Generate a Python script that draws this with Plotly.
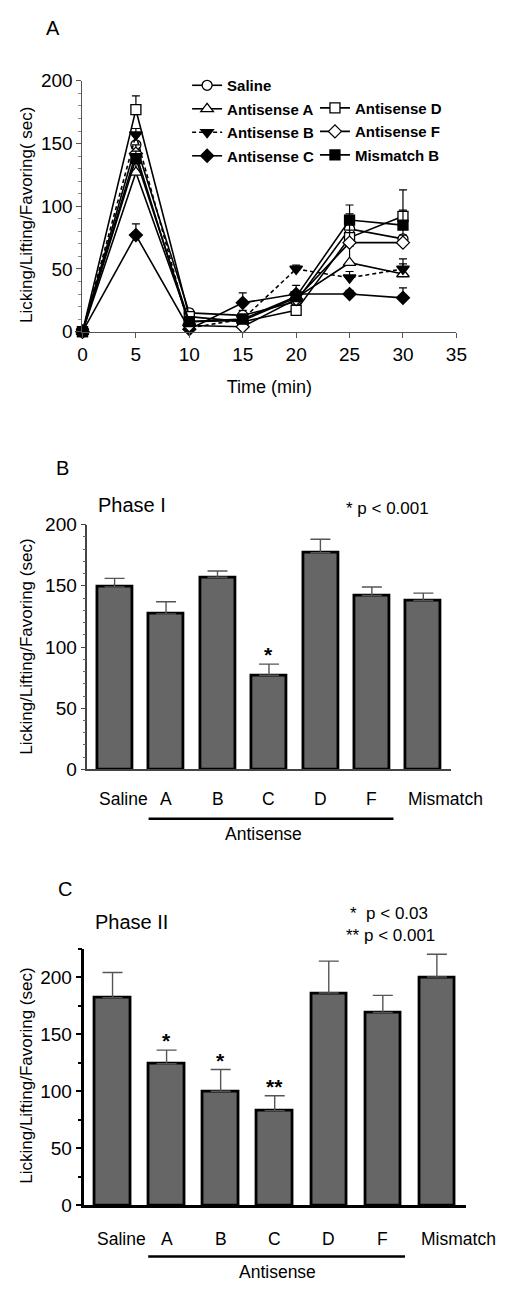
import plotly.graph_objects as go

# ---------------- data ----------------
time_min = [0, 5, 10, 15, 20, 25, 30]
saline = [0, 149, 15, 13, 24, 82, 74]
anti_a = [0, 127, 8, 9, 27, 55, 46]
anti_b = [0, 157, 3, 10, 50, 43, 50]
anti_c = [0, 77, 2, 23, 30, 30, 27]
anti_d = [0, 177, 12, 8, 17, 75, 92]
anti_f = [0, 142, 5, 4, 26, 71, 71]
mismatch_b = [0, 138, 8, 10, 28, 89, 85]

saline_err = [0, 7, 3, 4, 4, 12, 8]
anti_a_err = [0, 10, 3, 3, 4, 13, 8]
anti_b_err = [0, 5, 2, 3, 3, 5, 8]
anti_c_err = [0, 9, 2, 8, 7, 3, 8]
anti_d_err = [0, 11, 3, 4, 5, 12, 21]
anti_f_err = [0, 7, 2, 3, 3, 10, 6]
mismatch_b_err = [0, 6, 3, 4, 4, 12, 12]

groups = ["Saline", "A", "B", "C", "D", "F", "Mismatch"]
phase1 = [149, 127, 157, 77, 177, 142, 138]
phase1_err = [7, 10, 5, 9, 11, 7, 6]
phase1_sig = ["", "", "", "*", "", "", ""]
phase2 = [182, 124, 100, 83, 186, 169, 200]
phase2_err = [22, 12, 19, 13, 28, 15, 20]
phase2_sig = ["", "*", "*", "**", "", "", ""]

W, H = 510, 1296
FONT = "Arial, Liberation Sans, sans-serif"


def px(p):
    return p / W


def py(p):
    return 1 - p / H


fig = go.Figure()

# ---------------- panel A ----------------
series = [
    ("Saline", saline, saline_err, "circle", "white", "solid", "legend"),
    ("Antisense A", anti_a, anti_a_err, "triangle-up", "white", "solid", "legend"),
    ("Antisense B", anti_b, anti_b_err, "triangle-down", "black", "4px,3px", "legend"),
    ("Antisense C", anti_c, anti_c_err, "diamond", "black", "solid", "legend"),
    ("Antisense D", anti_d, anti_d_err, "square", "white", "solid", "legend2"),
    ("Antisense F", anti_f, anti_f_err, "diamond", "white", "solid", "legend2"),
    ("Mismatch B", mismatch_b, mismatch_b_err, "square", "black", "solid", "legend2"),
]
for name, vals, errs, sym, fill, dash, leg in series:
    fig.add_trace(go.Scatter(
        x=time_min, y=vals, name=name, mode="lines+markers",
        xaxis="x", yaxis="y", legend=leg, legendgroup=name,
        line=dict(color="black", width=1.6, dash=dash),
        marker=dict(symbol=sym, size=10 if "triangle" not in sym else 11,
                    color=fill, line=dict(color="black", width=1.3)),
        error_y=dict(type="data", array=errs, arrayminus=[0] * len(errs),
                     symmetric=False, color="black", thickness=1.2, width=4),
        cliponaxis=False,
    ))

# ---------------- panel B ----------------
fig.add_trace(go.Bar(
    x=list(range(len(groups))), y=phase1, xaxis="x2", yaxis="y2",
    width=0.68, showlegend=False,
    marker=dict(color="#666666", line=dict(color="black", width=2.8)),
    error_y=dict(type="data", array=phase1_err, arrayminus=[0] * len(groups),
                 symmetric=False, color="#555555", thickness=1.4, width=10),
))

# ---------------- panel C ----------------
fig.add_trace(go.Bar(
    x=list(range(len(groups))), y=phase2, xaxis="x3", yaxis="y3",
    width=0.66, showlegend=False,
    marker=dict(color="#666666", line=dict(color="black", width=2.8)),
    error_y=dict(type="data", array=phase2_err, arrayminus=[0] * len(groups),
                 symmetric=False, color="#555555", thickness=1.4, width=10),
))

tickfont = dict(family=FONT, size=19, color="black")

fig.update_layout(
    width=W, height=H, margin=dict(l=0, r=0, t=0, b=0),
    paper_bgcolor="white", plot_bgcolor="white",
    font=dict(family=FONT, color="black"),
    bargap=0,
    xaxis=dict(domain=[px(80), px(466)], range=[0, 35], anchor="y",
               tickvals=[0, 5, 10, 15, 20, 25, 30, 35], ticks="outside",
               ticklen=5, tickcolor="#555555", showline=True, linecolor="#555555",
               linewidth=1.2, showgrid=False, zeroline=False, tickfont=tickfont,
               title=dict(text="Time (min)", font=dict(family=FONT, size=18), standoff=16)),
    yaxis=dict(domain=[py(327), py(72)], range=[0, 200], anchor="x",
               tickvals=[0, 50, 100, 150, 200], ticks="outside", ticklen=5,
               tickcolor="#555555", showline=True, linecolor="#555555", linewidth=1.2,
               showgrid=False, zeroline=False, tickfont=tickfont,
               minor=dict(dtick=10, ticks="outside", ticklen=3, tickcolor="#888888")),
    xaxis2=dict(domain=[px(85), px(460)], range=[-0.53, 6.53], anchor="y2",
                showticklabels=False, ticks="", showline=True, linecolor="#444444",
                linewidth=1.8, showgrid=False, zeroline=False),
    yaxis2=dict(domain=[py(772), py(523)], range=[0, 200], anchor="x2",
                tickvals=[0, 50, 100, 150, 200], ticks="outside", ticklen=5,
                tickcolor="#444444", showline=True, linecolor="#444444", linewidth=1.5,
                showgrid=False, zeroline=False, tickfont=tickfont,
                minor=dict(dtick=10, ticks="outside", ticklen=3, tickcolor="#666666")),
    xaxis3=dict(domain=[px(82), px(476)], range=[-0.52, 6.54], anchor="y3",
                showticklabels=False, ticks="", showline=True, linecolor="black",
                linewidth=2.5, showgrid=False, zeroline=False),
    yaxis3=dict(domain=[py(1215), py(954)], range=[0, 225], anchor="x3",
                tickvals=[0, 50, 100, 150, 200], ticks="outside", ticklen=6,
                tickcolor="black", tickwidth=1.5, showline=True, linecolor="black",
                linewidth=2.5, showgrid=False, zeroline=False, tickfont=tickfont,
                minor=dict(dtick=25, ticks="outside", ticklen=4, tickcolor="black")),
    legend=dict(x=px(188), y=py(60), xanchor="left", yanchor="top",
                font=dict(family=FONT, size=15, weight="bold"), itemwidth=30,
                bgcolor="rgba(0,0,0,0)", tracegroupgap=1, traceorder="grouped"),
    legend2=dict(x=px(320), y=py(83), xanchor="left", yanchor="top",
                 font=dict(family=FONT, size=15, weight="bold"), itemwidth=30,
                 bgcolor="rgba(0,0,0,0)", tracegroupgap=1, traceorder="grouped"),
)

ann = []
ann.append(dict(text="A", x=px(40), y=py(18), xanchor="left", yanchor="middle", font=dict(size=20)))
ann.append(dict(text="B", x=px(51), y=py(466), xanchor="left", yanchor="middle", font=dict(size=20)))
ann.append(dict(text="C", x=px(53), y=py(893), xanchor="left", yanchor="middle", font=dict(size=20)))
ann.append(dict(text="Licking/Lifting/Favoring( sec)", x=px(22), y=py(208), textangle=-90,
                xanchor="center", yanchor="middle", font=dict(size=17)))
ann.append(dict(text="Licking/Lifting/Favoring (sec)", x=px(22), y=py(647), textangle=-90,
                xanchor="center", yanchor="middle", font=dict(size=17)))
ann.append(dict(text="Licking/Lifting/Favoring (sec)", x=px(22), y=py(1083), textangle=-90,
                xanchor="center", yanchor="middle", font=dict(size=17)))
ann.append(dict(text="Phase I", x=px(94), y=py(503), xanchor="left", yanchor="middle", font=dict(size=20)))
ann.append(dict(text="* p < 0.001", x=px(350), y=py(507), xanchor="left", yanchor="middle", font=dict(size=17)))
ann.append(dict(text="Phase II", x=px(91), y=py(927), xanchor="left", yanchor="middle", font=dict(size=20)))
ann.append(dict(text="*  p < 0.03", x=px(354), y=py(918), xanchor="left", yanchor="middle", font=dict(size=17)))
ann.append(dict(text="** p < 0.001", x=px(350), y=py(941), xanchor="left", yanchor="middle", font=dict(size=17)))

for xa, ya, label_y, vals, errs, sig, half in [
    ("x2", "y2", 802, phase1, phase1_err, phase1_sig, 0.34),
    ("x3", "y3", 1249, phase2, phase2_err, phase2_sig, 0.33),
]:
    for i, g in enumerate(groups):
        if g in ("Saline", "Mismatch"):
            ann.append(dict(text=g, x=i - half, xref=xa, y=py(label_y), yref="paper",
                            xanchor="left", yanchor="middle", font=dict(size=17.5)))
        else:
            ann.append(dict(text=g, x=i, xref=xa, y=py(label_y), yref="paper",
                            xanchor="center", yanchor="middle", font=dict(size=17.5)))
        if sig[i]:
            ann.append(dict(text="<b>" + sig[i] + "</b>", x=i, xref=xa, y=vals[i] + errs[i], yref=ya,
                            xanchor="center", yanchor="bottom", yshift=-4,
                            font=dict(size=21)))

ann.append(dict(text="Antisense", x=2.9, xref="x2", y=py(838), yref="paper",
                xanchor="center", yanchor="middle", font=dict(size=17.5)))
ann.append(dict(text="Antisense", x=3.05, xref="x3", y=py(1283), yref="paper",
                xanchor="center", yanchor="middle", font=dict(size=17.5)))

for a in ann:
    a.setdefault("xref", "paper")
    a.setdefault("yref", "paper")
    a["showarrow"] = False
    f = a.get("font", {})
    f.setdefault("family", FONT)
    f.setdefault("color", "black")
    a["font"] = f
fig.update_layout(annotations=ann)

fig.update_layout(shapes=[
    dict(type="line", xref="x2", yref="paper", x0=0.66, x1=5.42, y0=py(822), y1=py(822),
         line=dict(color="black", width=2.5)),
    dict(type="line", xref="x3", yref="paper", x0=0.66, x1=5.41, y0=py(1267), y1=py(1267),
         line=dict(color="black", width=2.5)),
])

fig.write_html(
    "out.html",
    config={"displayModeBar": False},
    post_script="document.body.style.margin='0px';"
                "document.documentElement.style.overflow='hidden';"
                "document.body.style.overflow='hidden';",
)
